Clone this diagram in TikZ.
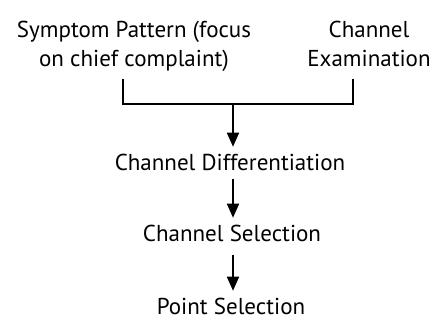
\documentclass[tikz,border=0pt]{standalone}
\usepackage{fontspec}
\setmainfont{PT Sans}
\usetikzlibrary{arrows.meta}

\begin{document}
\begin{tikzpicture}[x = 1pt, y = -1pt, line width = 1.8pt,
                    label/.style = {align = center, inner sep = 0pt, anchor = base,
                                    font = \fontsize{23}{29}\selectfont},
                    arrow/.style = {-{Triangle[length = 14pt, width = 12pt]}, shorten > = 7pt}]
  \useasboundingbox (0, 0) rectangle (434, 320);
  \node [label] (symptom) at (134, 67) {Symptom Pattern (focus\\on chief complaint)};
  \node [label] (exam) at (369, 67) {Channel\\Examination};
  \node [label] (diff) at (230, 171) {Channel Differentiation};
  \node [label] (chsel) at (232, 242) {Channel Selection};
  \node [label] (ptsel) at (231, 315) {Point Selection};

  \coordinate (left) at (123, 79);
  \coordinate (right) at (353, 79);
  \coordinate (join) at (233, 104);
  \coordinate (d1) at (233, 179);
  \coordinate (s1) at (233, 255);

  \draw (left) -- (left |- join) -- (right |- join) -- (right);
  \draw [arrow] (join) -- (join |- diff.north);
  \draw [arrow] (d1) -- (d1 |- chsel.north);
  \draw [arrow] (s1) -- (s1 |- ptsel.north);
\end{tikzpicture}
\end{document}
